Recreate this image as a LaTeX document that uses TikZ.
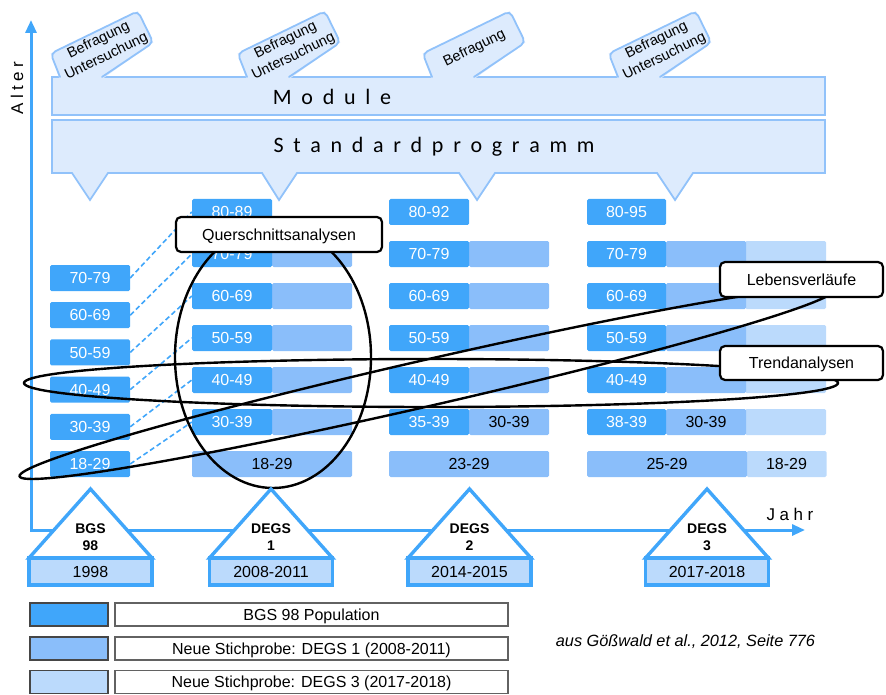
\documentclass[tikz,border=0pt]{standalone}
\usepackage{fontspec}
\setmainfont{Liberation Sans}
\newfontfamily\calib{Carlito}
\usetikzlibrary{arrows.meta,shapes.geometric}
\definecolor{dkb}{RGB}{64,166,250}
\definecolor{mdb}{RGB}{138,190,250}
\definecolor{ltb}{RGB}{187,218,252}
\definecolor{modf}{RGB}{221,235,253}
\definecolor{modl}{RGB}{145,194,250}
\definecolor{dgray}{RGB}{70,70,70}
\newcommand\lsp[2]{\def\lspamt{#1}\lspA#2\relax\relax}
\def\lspA#1#2{#1\ifx\relax#2\else\kern\lspamt\relax\expandafter\lspA\expandafter#2\fi}
\begin{document}
\begin{tikzpicture}[x=1pt,y=-1pt,
  axis/.style={draw=dkb, line width=3pt, {Triangle[length=13pt,width=11pt]}-{Triangle[length=13pt,width=11pt]}},
  modbar/.style={fill=modf, draw=modl, line width=1.8pt},
  cell/.style={minimum width=80pt, minimum height=26pt, inner sep=0pt, rounded corners=1.5pt, font=\fontsize{16}{19}\selectfont, text height=11.5pt, text depth=0pt},
  dcell/.style={cell, fill=dkb, text=white},
  mcell/.style={cell, fill=mdb},
  lcell/.style={cell, fill=ltb},
  dsh/.style={draw=dkb, line width=1.6pt, dash pattern=on 5pt off 3pt},
  ell/.style={draw=black, line width=2.4pt, ellipse, inner sep=0pt},
  lab/.style={draw=black, fill=white, line width=2.2pt, rounded corners=5pt, inner sep=0pt, font=\fontsize{16}{19}\selectfont, text height=11.5pt, text depth=0pt},
  tri/.style={draw=dkb, line width=3.4pt, fill=white, line join=miter},
  yrbox/.style={draw=dkb, line width=3.4pt, fill=ltb},
  sw/.style={draw=dgray, line width=1.3pt, minimum width=78pt, minimum height=23pt, inner sep=0pt},
  lbox/.style={draw=dgray!85, line width=1.3pt, fill=white, minimum width=393pt, minimum height=23pt, inner sep=0pt, font=\fontsize{16}{19}\selectfont, text height=11.5pt, text depth=0pt},
  calltxt/.style={rotate=26, align=center, inner sep=0pt, font=\fontsize{14.5}{18}\selectfont}
]
\useasboundingbox (0,0) rectangle (886,695);

% axes
\coordinate (ytip) at (31,20);
\coordinate (orig) at (31,530);
\coordinate (xtip) at (805,530);
\draw[axis] (ytip) -- (orig) -- (xtip);
\node[rotate=90, font=\fontsize{17}{20}\selectfont] (alter) at (17,88) {\lsp{4.5pt}{Alter}};
\node[font=\fontsize{17}{20}\selectfont] (jahr) at (790,514) {\lsp{4.5pt}{Jahr}};

% Module bar
\draw[modbar] (52,77) rectangle (825,115);
% Standardprogramm bar with pointers
\draw[modbar] (52,120) -- (825,120) -- (825,173) -- (693,173) -- (675,200) -- (657,173)
  -- (495,173) -- (477,200) -- (459,173) -- (297,173) -- (279,200) -- (262,173)
  -- (108,173) -- (90,200) -- (72,173) -- (52,173) -- cycle;
\node[anchor=base, font=\calib\fontsize{22}{26}\selectfont] (module) at (332,105) {\lsp{9.7pt}{Module}};
\node[anchor=base, font=\calib\fontsize{22}{26}\selectfont] (stdprog) at (434,153) {\lsp{9.7pt}{Standardprogramm}};

% callouts
\foreach \cx/\txt [count=\k] in {102/{Befragung\\Untersuchung}, 289/{Befragung\\Untersuchung}, 474/{Befragung}, 660/{Befragung\\Untersuchung}} {
  \fill[modf] (\cx-42.5,78.8) -- (\cx-51.3,53.5) -- (\cx+35.9,11.1) -- (\cx+51.3,42.5) -- (\cx+0.5,78.8) -- cycle;
  \draw[modl, line width=1.8pt, rounded corners=5pt, line cap=round] (\cx-42,77) -- (\cx-51.3,53.5) -- (\cx+35.9,11.1) -- (\cx+51.3,42.5) -- (\cx,77);
  \node[calltxt] (call\k) at (\cx+0.5,48.5) {\txt};
}

% column 1 (BGS 98)
\foreach \t [count=\i] in {70-79,60-69,50-59,40-49,30-39,18-29}
  \node[dcell] (a\i) at (90,{278+(\i-1)*37.2}) {\t};

% column 2 (DEGS 1)
\foreach \i in {2,...,6} \node[mcell] (bm\i) at (312,{212+(\i-1)*42}) {};
\foreach \t [count=\i] in {80-89,70-79,60-69,50-59,40-49,30-39}
  \node[dcell] (b\i) at (232,{212+(\i-1)*42}) {\t};
\node[mcell, minimum width=160pt] (b7) at (272,464) {18-29};

% column 3 (DEGS 2)
\foreach \i in {2,...,5} \node[mcell] (cm\i) at (509,{212+(\i-1)*42}) {};
\node[mcell] (cm6) at (509,422) {30-39};
\foreach \t [count=\i] in {80-92,70-79,60-69,50-59,40-49,35-39}
  \node[dcell] (c\i) at (429,{212+(\i-1)*42}) {\t};
\node[mcell, minimum width=160pt] (c7) at (469,464) {23-29};

% column 4 (DEGS 3)
\foreach \i in {2,...,6} \node[lcell, minimum width=81pt] (dl\i) at (785.5,{212+(\i-1)*42}) {};
\foreach \i in {2,...,5} \node[mcell] (dm\i) at (706,{212+(\i-1)*42}) {};
\node[mcell] (dm6) at (706,422) {30-39};
\foreach \t [count=\i] in {80-95,70-79,60-69,50-59,40-49,38-39}
  \node[dcell, minimum width=79pt] (d\i) at (626.5,{212+(\i-1)*42}) {\t};
\node[lcell, minimum width=80pt] (d7l) at (786.5,464) {18-29};
\node[mcell, minimum width=160pt] (d7) at (667,464) {25-29};

% dashed cohort connectors
\draw[dsh] (a1.east) -- (b1.west);
\draw[dsh] (a2.east) -- (b2.west);
\draw[dsh] (a3.east) -- (b3.west);
\draw[dsh] (a4.east) -- (b4.west);
\draw[dsh] (a5.east) -- (b5.west);
\draw[dsh] (a6.east) -- (b6.west);

% ellipses
\node[ell, minimum width=196pt, minimum height=262pt] (eq) at (273,357) {};
\node[ell, minimum width=814pt, minimum height=48pt] (et) at (431,383) {};
\node[ell, minimum width=836pt, minimum height=46pt, rotate=12.9] (el) at (427,383) {};

% survey triangles
\foreach \cx/\ta/\tb/\yr [count=\i] in {90.5/BGS/98/1998, 271/DEGS/1/2008-2011, 469.5/DEGS/2/2014-2015, 707/DEGS/3/2017-2018} {
  \draw[tri] (\cx-61.5,558) -- (\cx,489) -- (\cx+61.5,558) -- cycle;
  \draw[yrbox] (\cx-61.5,558) rectangle (\cx+61.5,585);
  \node[font=\bfseries\fontsize{14}{16}\selectfont] (sa\i) at (\cx,529) {\ta};
  \node[font=\bfseries\fontsize{14}{16}\selectfont] (sb\i) at (\cx,546) {\tb};
  \node[font=\fontsize{16}{19}\selectfont, text height=11.5pt, text depth=0pt, inner sep=0pt] (yr\i) at (\cx,572) {\yr};
}

% analysis labels
\node[lab, minimum width=206pt, minimum height=35pt] (lq) at (279,234.5) {Querschnittsanalysen};
\node[lab, minimum width=163pt, minimum height=35pt] (ll) at (801.5,279.5) {Lebensverläufe};
\node[lab, minimum width=163pt, minimum height=34pt] (lt) at (801.5,363) {Trendanalysen};

% legend
\node[sw, fill=dkb] (s1) at (69,614.5) {};
\node[sw, fill=mdb] (s2) at (69,648.5) {};
\node[sw, fill=ltb] (s3) at (69,682) {};
\node[lbox] (t1) at (311.5,614.5) {BGS 98 Population};
\node[lbox] (t2) at (311.5,648.5) {Neue Stichprobe: DEGS 1 (2008-2011)};
\node[lbox] (t3) at (311.5,682) {Neue Stichprobe: DEGS 3 (2017-2018)};

\node[font=\itshape\fontsize{16.3}{19}\selectfont, text height=11.5pt, text depth=0pt] (cite) at (685.5,641) {aus Gößwald et al., 2012, Seite 776};
\end{tikzpicture}
\end{document}
